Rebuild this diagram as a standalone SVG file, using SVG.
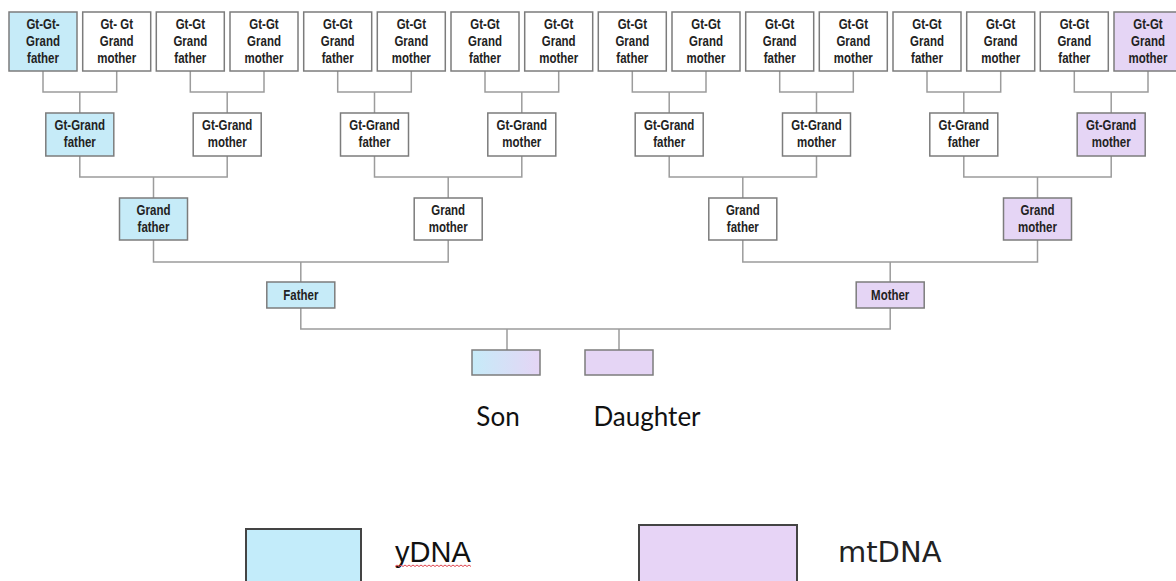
<svg xmlns="http://www.w3.org/2000/svg" width="1176" height="581" viewBox="0 0 1176 581">
<defs>
<style>
.box{fill:#ffffff;stroke:#7c7c7c;stroke-width:1.5}
.blue{fill:#c6ebf8}
.purple{fill:#e5d5f5}
.t{font-family:"Liberation Sans Narrow","Liberation Sans",Arial,sans-serif;font-size:14px;font-weight:bold;fill:#222;text-anchor:middle}
.conn{fill:none;stroke:#9c9c9c;stroke-width:1.5}
.lbl{font-family:Lato,"Open Sans",sans-serif;font-size:26px;fill:#111}
.leg{fill:none;stroke:#444;stroke-width:2}
</style>
<linearGradient id="sonGrad" x1="0" y1="0" x2="1" y2="0">
<stop offset="0" stop-color="#c6ebf8"/>
<stop offset="1" stop-color="#e5d5f5"/>
</linearGradient>
</defs>
<rect width="1176" height="581" fill="#ffffff"/>

<g id="connectors" class="conn">
<path d="M43,71V92H116.7V71M79.8,92V113"/>
<path d="M190.3,71V92H264V71M227.2,92V113"/>
<path d="M337.7,71V92H411.3V71M374.5,92V113"/>
<path d="M485,71V92H558.7V71M521.8,92V113"/>
<path d="M632.3,71V92H706V71M669.2,92V113"/>
<path d="M779.7,71V92H853.3V71M816.5,92V113"/>
<path d="M927,71V92H1000.7V71M963.8,92V113"/>
<path d="M1074.3,71V92H1148V71M1111.2,92V113"/>
<path d="M79.8,156V177H227.2V156M153.5,177V198"/>
<path d="M374.5,156V177H521.8V156M448.2,177V198"/>
<path d="M669.2,156V177H816.5V156M742.8,177V198"/>
<path d="M963.8,156V177H1111.2V156M1037.5,177V198"/>
<path d="M153.5,240V262H448.2V240M300.8,262V282"/>
<path d="M742.8,240V262H1037.5V240M890.2,262V282"/>
<path d="M300.8,308V329H890.2V308M507,329V350M619,329V350"/>
</g>

<g id="g1-1"><rect class="box blue" x="9" y="12" width="68" height="59"/><g transform="translate(43 0) scale(0.82 1)"><text class="t" x="0" y="29">Gt-Gt-</text><text class="t" x="0" y="46">Grand</text><text class="t" x="0" y="63">father</text></g></g>
<g id="g1-2"><rect class="box" x="82.7" y="12" width="68" height="59"/><g transform="translate(116.7 0) scale(0.82 1)"><text class="t" x="0" y="29">Gt- Gt</text><text class="t" x="0" y="46">Grand</text><text class="t" x="0" y="63">mother</text></g></g>
<g id="g1-3"><rect class="box" x="156.3" y="12" width="68" height="59"/><g transform="translate(190.3 0) scale(0.82 1)"><text class="t" x="0" y="29">Gt-Gt</text><text class="t" x="0" y="46">Grand</text><text class="t" x="0" y="63">father</text></g></g>
<g id="g1-4"><rect class="box" x="230" y="12" width="68" height="59"/><g transform="translate(264 0) scale(0.82 1)"><text class="t" x="0" y="29">Gt-Gt</text><text class="t" x="0" y="46">Grand</text><text class="t" x="0" y="63">mother</text></g></g>
<g id="g1-5"><rect class="box" x="303.7" y="12" width="68" height="59"/><g transform="translate(337.7 0) scale(0.82 1)"><text class="t" x="0" y="29">Gt-Gt</text><text class="t" x="0" y="46">Grand</text><text class="t" x="0" y="63">father</text></g></g>
<g id="g1-6"><rect class="box" x="377.3" y="12" width="68" height="59"/><g transform="translate(411.3 0) scale(0.82 1)"><text class="t" x="0" y="29">Gt-Gt</text><text class="t" x="0" y="46">Grand</text><text class="t" x="0" y="63">mother</text></g></g>
<g id="g1-7"><rect class="box" x="451" y="12" width="68" height="59"/><g transform="translate(485 0) scale(0.82 1)"><text class="t" x="0" y="29">Gt-Gt</text><text class="t" x="0" y="46">Grand</text><text class="t" x="0" y="63">father</text></g></g>
<g id="g1-8"><rect class="box" x="524.7" y="12" width="68" height="59"/><g transform="translate(558.7 0) scale(0.82 1)"><text class="t" x="0" y="29">Gt-Gt</text><text class="t" x="0" y="46">Grand</text><text class="t" x="0" y="63">mother</text></g></g>
<g id="g1-9"><rect class="box" x="598.3" y="12" width="68" height="59"/><g transform="translate(632.3 0) scale(0.82 1)"><text class="t" x="0" y="29">Gt-Gt</text><text class="t" x="0" y="46">Grand</text><text class="t" x="0" y="63">father</text></g></g>
<g id="g1-10"><rect class="box" x="672" y="12" width="68" height="59"/><g transform="translate(706 0) scale(0.82 1)"><text class="t" x="0" y="29">Gt-Gt</text><text class="t" x="0" y="46">Grand</text><text class="t" x="0" y="63">mother</text></g></g>
<g id="g1-11"><rect class="box" x="745.7" y="12" width="68" height="59"/><g transform="translate(779.7 0) scale(0.82 1)"><text class="t" x="0" y="29">Gt-Gt</text><text class="t" x="0" y="46">Grand</text><text class="t" x="0" y="63">father</text></g></g>
<g id="g1-12"><rect class="box" x="819.3" y="12" width="68" height="59"/><g transform="translate(853.3 0) scale(0.82 1)"><text class="t" x="0" y="29">Gt-Gt</text><text class="t" x="0" y="46">Grand</text><text class="t" x="0" y="63">mother</text></g></g>
<g id="g1-13"><rect class="box" x="893" y="12" width="68" height="59"/><g transform="translate(927 0) scale(0.82 1)"><text class="t" x="0" y="29">Gt-Gt</text><text class="t" x="0" y="46">Grand</text><text class="t" x="0" y="63">father</text></g></g>
<g id="g1-14"><rect class="box" x="966.7" y="12" width="68" height="59"/><g transform="translate(1000.7 0) scale(0.82 1)"><text class="t" x="0" y="29">Gt-Gt</text><text class="t" x="0" y="46">Grand</text><text class="t" x="0" y="63">mother</text></g></g>
<g id="g1-15"><rect class="box" x="1040.3" y="12" width="68" height="59"/><g transform="translate(1074.3 0) scale(0.82 1)"><text class="t" x="0" y="29">Gt-Gt</text><text class="t" x="0" y="46">Grand</text><text class="t" x="0" y="63">father</text></g></g>
<g id="g1-16"><rect class="box purple" x="1114" y="12" width="68" height="59"/><g transform="translate(1148 0) scale(0.82 1)"><text class="t" x="0" y="29">Gt-Gt</text><text class="t" x="0" y="46">Grand</text><text class="t" x="0" y="63">mother</text></g></g>

<g id="g2-1"><rect class="box blue" x="45.8" y="113" width="68" height="43"/><g transform="translate(79.8 0) scale(0.82 1)"><text class="t" x="0" y="130">Gt-Grand</text><text class="t" x="0" y="147">father</text></g></g>
<g id="g2-2"><rect class="box" x="193.2" y="113" width="68" height="43"/><g transform="translate(227.2 0) scale(0.82 1)"><text class="t" x="0" y="130">Gt-Grand</text><text class="t" x="0" y="147">mother</text></g></g>
<g id="g2-3"><rect class="box" x="340.5" y="113" width="68" height="43"/><g transform="translate(374.5 0) scale(0.82 1)"><text class="t" x="0" y="130">Gt-Grand</text><text class="t" x="0" y="147">father</text></g></g>
<g id="g2-4"><rect class="box" x="487.8" y="113" width="68" height="43"/><g transform="translate(521.8 0) scale(0.82 1)"><text class="t" x="0" y="130">Gt-Grand</text><text class="t" x="0" y="147">mother</text></g></g>
<g id="g2-5"><rect class="box" x="635.2" y="113" width="68" height="43"/><g transform="translate(669.2 0) scale(0.82 1)"><text class="t" x="0" y="130">Gt-Grand</text><text class="t" x="0" y="147">father</text></g></g>
<g id="g2-6"><rect class="box" x="782.5" y="113" width="68" height="43"/><g transform="translate(816.5 0) scale(0.82 1)"><text class="t" x="0" y="130">Gt-Grand</text><text class="t" x="0" y="147">mother</text></g></g>
<g id="g2-7"><rect class="box" x="929.8" y="113" width="68" height="43"/><g transform="translate(963.8 0) scale(0.82 1)"><text class="t" x="0" y="130">Gt-Grand</text><text class="t" x="0" y="147">father</text></g></g>
<g id="g2-8"><rect class="box purple" x="1077.2" y="113" width="68" height="43"/><g transform="translate(1111.2 0) scale(0.82 1)"><text class="t" x="0" y="130">Gt-Grand</text><text class="t" x="0" y="147">mother</text></g></g>

<g id="g3-1"><rect class="box blue" x="119.5" y="198" width="68" height="42"/><g transform="translate(153.5 0) scale(0.82 1)"><text class="t" x="0" y="215">Grand</text><text class="t" x="0" y="232">father</text></g></g>
<g id="g3-2"><rect class="box" x="414.2" y="198" width="68" height="42"/><g transform="translate(448.2 0) scale(0.82 1)"><text class="t" x="0" y="215">Grand</text><text class="t" x="0" y="232">mother</text></g></g>
<g id="g3-3"><rect class="box" x="708.8" y="198" width="68" height="42"/><g transform="translate(742.8 0) scale(0.82 1)"><text class="t" x="0" y="215">Grand</text><text class="t" x="0" y="232">father</text></g></g>
<g id="g3-4"><rect class="box purple" x="1003.5" y="198" width="68" height="42"/><g transform="translate(1037.5 0) scale(0.82 1)"><text class="t" x="0" y="215">Grand</text><text class="t" x="0" y="232">mother</text></g></g>

<g id="father"><rect class="box blue" x="266.8" y="282" width="68" height="26"/><g transform="translate(300.8 0) scale(0.82 1)"><text class="t" x="0" y="300">Father</text></g></g>
<g id="mother"><rect class="box purple" x="856.2" y="282" width="68" height="26"/><g transform="translate(890.2 0) scale(0.82 1)"><text class="t" x="0" y="300">Mother</text></g></g>

<g id="son"><rect class="box" style="fill:url(#sonGrad)" x="472" y="350" width="68" height="25"/><text class="lbl" x="498" y="426" text-anchor="middle">Son</text></g>
<g id="daughter"><rect class="box purple" x="585" y="350" width="68" height="25"/><text class="lbl" x="647" y="426" text-anchor="middle">Daughter</text></g>

<g id="legend-ydna">
<rect class="leg" x="246" y="529" width="115" height="60" style="fill:#c3ecfa"/>
<text x="395" y="562" style="font-family:'Liberation Sans',Arial,sans-serif;font-size:29px;fill:#111">yDNA</text>
<path d="M395,566.5l2,-1.5l2,1.5l2,-1.5l2,1.5l2,-1.5l2,1.5l2,-1.5l2,1.5l2,-1.5l2,1.5l2,-1.5l2,1.5l2,-1.5l2,1.5l2,-1.5l2,1.5l2,-1.5l2,1.5l2,-1.5l2,1.5l2,-1.5l2,1.5l2,-1.5l2,1.5l2,-1.5l2,1.5l2,-1.5l2,1.5l2,-1.5l2,1.5l2,-1.5l2,1.5l2,-1.5l2,1.5l2,-1.5l2,1.5l2,-1.5l2,1.5" fill="none" stroke="#e0454f" stroke-width="1"/>
</g>
<g id="legend-mtdna">
<rect class="leg" x="639" y="525" width="158" height="64" style="fill:#e7d4f6"/>
<text x="838" y="562" style="font-family:'DejaVu Sans',sans-serif;font-size:29px;fill:#222">mtDNA</text>
</g>
</svg>
